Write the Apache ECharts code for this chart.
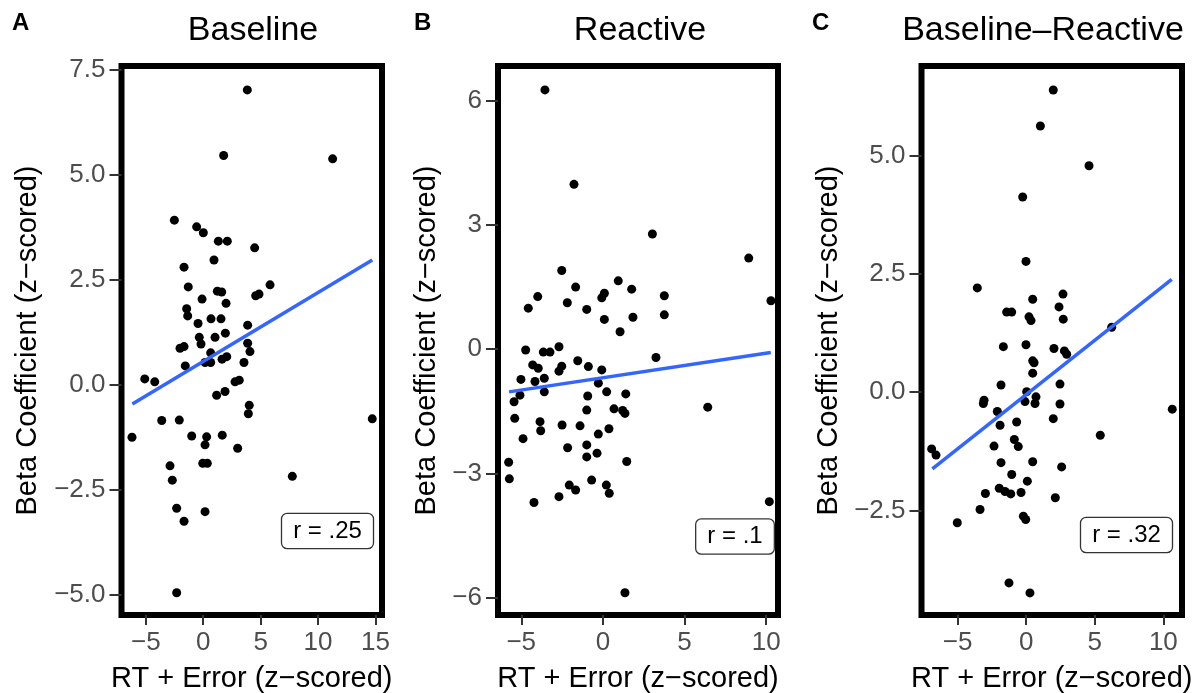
<!DOCTYPE html>
<html>
<head>
<meta charset="utf-8">
<script src="https://cdn.jsdelivr.net/npm/echarts@6/dist/echarts.min.js"></script>
<style>
html,body{margin:0;padding:0;background:#fff;}
#chart{width:1203px;height:693px;}
</style>
</head>
<body>
<div id="chart"></div>
<script>
// ---------- DATA ----------
const panelLetters = ['A', 'B', 'C'];
const panelTitles = ['Baseline', 'Reactive', 'Baseline\u2013Reactive'];
const xAxisTitle = 'RT + Error (z\u2212scored)';
const yAxisTitle = 'Beta Coefficient (z\u2212scored)';
const rLabels = ['r = .25', 'r = .1', 'r = .32'];

const xTicksA = [-5, 0, 5, 10, 15];
const yTicksA = [-5, -2.5, 0, 2.5, 5, 7.5];
const xTicksB = [-5, 0, 5, 10];
const yTicksB = [-6, -3, 0, 3, 6];
const xTicksC = [-5, 0, 5, 10];
const yTicksC = [-2.5, 0, 2.5, 5];

const baselineX = [3.84, 1.78, 11.27, -2.51, -0.57, 0.01, 1.32, 2.10, 4.48, 0.94, -1.67, 5.82, -1.30, 1.23, 1.61, 4.57, 4.86, -0.10, 1.99, -1.44, -1.35, -0.45, 0.68, 1.55, 3.87, 1.93, -0.34, 1.03, -0.19, -2.02, -1.67, 3.87, 4.07, 0.65, 1.64, 2.05, 0.16, 0.65, -1.56, 3.55, -5.09, -4.22, 2.77, 3.14, 1.17, 1.90, 4.01, 3.93, -3.61, -2.08, 14.72, -6.20, -1.00, 0.30, 0.16, 1.66, 3.00, -2.89, -0.04, 0.36, -2.69, 7.76, -2.31, 0.16, -1.67, -2.31];
const baselineY = [7.02, 5.46, 5.38, 3.92, 3.76, 3.62, 3.42, 3.42, 3.26, 2.97, 2.80, 2.38, 2.33, 2.23, 2.21, 2.12, 2.16, 2.04, 1.94, 1.81, 1.64, 1.46, 1.57, 1.57, 1.42, 1.23, 1.13, 1.13, 0.97, 0.87, 0.91, 0.99, 0.79, 0.76, 0.61, 0.67, 0.53, 0.53, 0.45, 0.53, 0.14, 0.07, 0.07, 0.11, -0.25, -0.16, -0.49, -0.69, -0.85, -0.84, -0.81, -1.25, -1.22, -1.24, -1.43, -1.20, -1.51, -1.93, -1.87, -1.87, -2.27, -2.18, -2.94, -3.02, -3.25, -4.95];
const baselineFitX = [-6.17, 14.72];
const baselineFitY = [-0.46, 2.97];

const reactiveX = [-3.55, -1.77, 3.03, 8.93, -2.52, 0.94, -1.67, 1.76, -3.99, 0.09, -0.07, 3.76, 10.29, -4.57, -2.18, -0.99, 0.09, 1.84, 3.76, 1.05, -4.73, -3.65, -3.24, -2.69, 3.25, -4.30, -3.96, -2.52, -2.69, -1.54, -0.89, -0.07, -5.02, -4.16, -3.59, -0.28, -3.59, -5.08, 0.23, 1.40, -5.44, -0.93, -0.99, 0.68, 1.21, 1.35, 6.42, -5.40, -3.85, -3.81, -2.50, -1.40, 0.37, -0.28, -4.89, -2.16, -0.99, -0.99, -0.36, -5.77, 1.46, -5.73, -2.06, -1.67, -0.69, 0.21, 0.39, -2.69, -4.22, 10.19, 1.35];
const reactiveY = [6.26, 3.98, 2.78, 2.20, 1.90, 1.65, 1.50, 1.45, 1.27, 1.35, 1.24, 1.29, 1.17, 0.99, 1.12, 0.96, 0.72, 0.77, 0.83, 0.42, -0.02, -0.07, -0.07, 0.06, -0.20, -0.38, -0.46, -0.41, -0.53, -0.28, -0.42, -0.50, -0.73, -0.78, -0.70, -0.82, -1.03, -1.11, -1.03, -1.08, -1.27, -1.13, -1.47, -1.44, -1.48, -1.55, -1.40, -1.67, -1.75, -1.97, -1.83, -1.85, -1.92, -2.05, -2.16, -2.38, -2.31, -2.60, -2.51, -2.73, -2.71, -3.13, -3.28, -3.40, -3.16, -3.28, -3.48, -3.56, -3.70, -3.68, -5.88];
const reactiveFitX = [-5.75, 10.28];
const reactiveFitY = [-1.03, -0.08];

const diffX = [1.97, 1.03, 4.58, -0.26, -0.02, -3.57, 2.68, 0.47, 2.39, -1.43, -1.06, 0.20, 0.35, 2.70, 6.23, -1.67, -0.02, 2.02, 2.78, 2.95, 0.47, 0.57, 0.47, -1.84, 2.46, 0.03, -3.08, -3.13, -0.09, 0.71, 0.64, 2.46, -2.11, 10.65, 1.97, -1.91, -0.70, 5.40, -0.87, -0.58, -2.35, -6.90, -6.58, -1.84, 0.47, 2.58, -1.06, 0.08, -1.97, -1.55, -1.13, -0.38, -2.98, 2.12, -3.37, -0.21, -0.04, -5.03, -1.26, 0.27];
const diffY = [6.38, 5.62, 4.78, 4.12, 2.76, 2.20, 2.07, 1.96, 1.80, 1.69, 1.69, 1.59, 1.51, 1.54, 1.37, 0.96, 1.00, 0.92, 0.87, 0.80, 0.66, 0.62, 0.40, 0.15, 0.17, 0.01, -0.17, -0.24, -0.20, -0.10, -0.24, -0.25, -0.41, -0.36, -0.56, -0.70, -0.63, -0.91, -1.00, -1.15, -1.14, -1.20, -1.33, -1.49, -1.47, -1.58, -1.74, -1.88, -2.03, -2.10, -2.15, -2.12, -2.14, -2.23, -2.48, -2.62, -2.69, -2.76, -4.03, -4.24];
const diffFitX = [-6.85, 10.61];
const diffFitY = [-1.62, 2.38];

// ---------- LAYOUT / STYLE ----------
const FONT = '"Liberation Sans", Arial, Helvetica, sans-serif';
const zip = (xs, ys) => xs.map((x, i) => [x, ys[i]]);
const minus = s => String(s).replace('-', '\u2212');

const panels = [
  { grid: { left: 121.5, top: 66, width: 260.5, height: 549 }, xr: [-7.114, 15.568], yr: [-5.481, 7.590],
    xt: xTicksA, yt: yTicksA, yDec: 1, pts: zip(baselineX, baselineY), fit: zip(baselineFitX, baselineFitY),
    letterX: 12, titleX: 253, yTitleX: 27.5, box: [327.5, 531] },
  { grid: { left: 498, top: 66, width: 280, height: 549 }, xr: [-6.424, 10.722], yr: [-6.417, 6.837],
    xt: xTicksB, yt: yTicksB, yDec: 0, pts: zip(reactiveX, reactiveY), fit: zip(reactiveFitX, reactiveFitY),
    letterX: 414, titleX: 640, yTitleX: 427, box: [735, 536.5] },
  { grid: { left: 921.5, top: 66, width: 260.5, height: 549 }, xr: [-7.640, 11.360], yr: [-4.707, 6.887],
    xt: xTicksC, yt: yTicksC, yDec: 1, pts: zip(diffX, diffY), fit: zip(diffFitX, diffFitY),
    letterX: 812, titleX: 1043, yTitleX: 829, box: [1126.5, 535] }
];

const grids = [], xAxes = [], yAxes = [], series = [], graphics = [];
panels.forEach((p, i) => {
  grids.push(Object.assign({ show: true, borderColor: '#000', borderWidth: 6, backgroundColor: 'transparent' }, p.grid));
  xAxes.push({
    gridIndex: i, type: 'value', min: p.xr[0], max: p.xr[1], position: 'bottom',
    axisLine: { show: false, onZero: false }, splitLine: { show: false },
    axisTick: { show: true, inside: false, customValues: p.xt, length: 10, lineStyle: { color: '#333', width: 2 } },
    axisLabel: { customValues: p.xt, color: '#4D4D4D', fontSize: 26, fontFamily: FONT, margin: 15,
      formatter: v => minus(Math.round(v)) }
  });
  yAxes.push({
    gridIndex: i, type: 'value', min: p.yr[0], max: p.yr[1], position: 'left',
    axisLine: { show: false, onZero: false }, splitLine: { show: false },
    axisTick: { show: true, inside: false, customValues: p.yt, length: 12, lineStyle: { color: '#333', width: 2 } },
    axisLabel: { customValues: p.yt, color: '#4D4D4D', fontSize: 26, fontFamily: FONT, margin: 16,
      formatter: v => minus(Number(v).toFixed(p.yDec)) }
  });
  series.push({
    type: 'scatter', xAxisIndex: i, yAxisIndex: i, data: p.pts, symbolSize: 9,
    itemStyle: { color: '#000', opacity: 1 }, z: 2, silent: true
  });
  series.push({
    type: 'line', xAxisIndex: i, yAxisIndex: i, data: p.fit, showSymbol: false, symbol: 'none',
    lineStyle: { color: '#3366FF', width: 3.5 }, z: 3, silent: true
  });
  const cx = p.grid.left + p.grid.width / 2;
  const cy = p.grid.top + p.grid.height / 2;
  graphics.push({ type: 'text', x: p.letterX, y: 11, style: { text: panelLetters[i], fontSize: 24, fontWeight: 'bold', fontFamily: FONT, fill: '#000', textAlign: 'left', textVerticalAlign: 'top', align: 'left', verticalAlign: 'top' } });
  graphics.push({ type: 'text', x: p.titleX, y: 31, style: { text: panelTitles[i], fontSize: 34, fontFamily: FONT, fill: '#000', textAlign: 'center', textVerticalAlign: 'middle', align: 'center', verticalAlign: 'middle' } });
  graphics.push({ type: 'text', x: cx, y: 679, style: { text: xAxisTitle, fontSize: 29, fontFamily: FONT, fill: '#000', textAlign: 'center', textVerticalAlign: 'middle', align: 'center', verticalAlign: 'middle' } });
  graphics.push({ type: 'text', x: p.yTitleX, y: cy, rotation: Math.PI / 2, style: { text: yAxisTitle, fontSize: 29, fontFamily: FONT, fill: '#000', textAlign: 'center', textVerticalAlign: 'middle', align: 'center', verticalAlign: 'middle' } });
  graphics.push({ type: 'text', x: p.box[0], y: p.box[1], z: 10, style: { text: rLabels[i], fontSize: 24, fontFamily: FONT, fill: '#000', textAlign: 'center', textVerticalAlign: 'middle', align: 'center', verticalAlign: 'middle', backgroundColor: '#fff', borderColor: '#333', borderWidth: 1.3, borderRadius: 5, padding: [5, 11] } });
});

const chart = echarts.init(document.getElementById('chart'), null, { renderer: 'canvas' });
chart.setOption({
  animation: false,
  backgroundColor: '#fff',
  grid: grids, xAxis: xAxes, yAxis: yAxes, series: series, graphic: graphics
});
</script>
</body>
</html>
